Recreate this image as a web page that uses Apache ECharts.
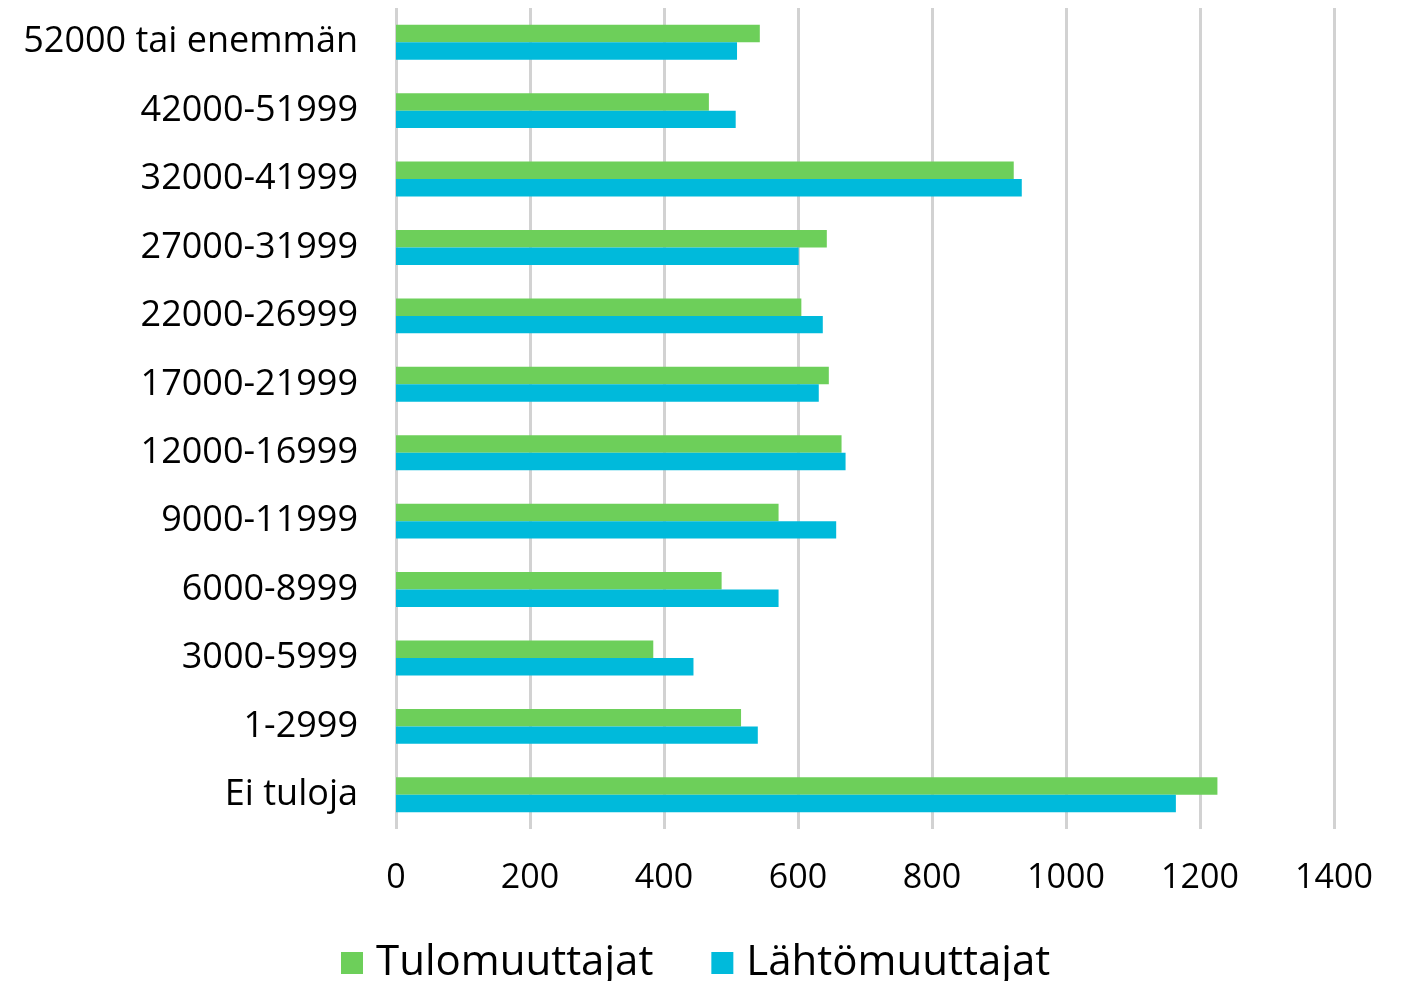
<!DOCTYPE html>
<html>
<head>
<meta charset="utf-8">
<script src="https://cdn.jsdelivr.net/npm/echarts@6/dist/echarts.min.js"></script>
<style>
html, body { margin: 0; padding: 0; background: #fff; }
#main { width: 1405px; height: 981px; }
</style>
</head>
<body>
<div id="main"></div>
<script>
// tuloluokat ylhäältä alas
var categories = ['52000 tai enemmän', '42000-51999', '32000-41999', '27000-31999', '22000-26999',
    '17000-21999', '12000-16999', '9000-11999', '6000-8999', '3000-5999', '1-2999', 'Ei tuloja'];
var tulomuuttajat = [543, 467, 922, 643, 605, 646, 665, 571, 486, 384, 515, 1226];
var lahtomuuttajat = [509, 507, 934, 601, 637, 631, 671, 657, 571, 444, 540, 1164];
var xTicks = [0, 200, 400, 600, 800, 1000, 1200, 1400];

var fontName = '"Open Sans", "Noto Sans", sans-serif';

var myChart = echarts.init(document.getElementById('main'));
var option = {
    animation: false,
    color: ['#6DCF5A', '#00BADB'],
    textStyle: { fontFamily: fontName },
    legend: {
        data: ['Tulomuuttajat', 'Lähtömuuttajat'],
        left: 336,
        top: 937,
        itemWidth: 22,
        itemHeight: 22,
        itemGap: 58,
        icon: 'rect',
        textStyle: { fontSize: 42, color: '#000', fontFamily: fontName, padding: [0, 0, 0, 8] }
    },
    grid: {
        left: 396,
        right: 71,
        top: 8,
        bottom: 152
    },
    xAxis: {
        type: 'value',
        min: xTicks[0],
        max: xTicks[xTicks.length - 1],
        interval: 200,
        axisLine: { show: false },
        axisTick: { show: false },
        axisLabel: {
            fontSize: 34, color: '#000', margin: 32, fontFamily: fontName,
            formatter: function (v) { return String(v); }
        },
        splitLine: { lineStyle: { color: '#d2d2d2', width: 3 } }
    },
    yAxis: {
        type: 'category',
        inverse: true,
        data: categories,
        axisLine: { show: false },
        axisTick: { show: false },
        axisLabel: { fontSize: 36, color: '#000', margin: 38, fontFamily: fontName }
    },
    series: [
        {
            name: 'Tulomuuttajat',
            type: 'bar',
            barGap: '0%',
            barCategoryGap: '49%',
            data: tulomuuttajat
        },
        {
            name: 'Lähtömuuttajat',
            type: 'bar',
            barGap: '0%',
            barCategoryGap: '49%',
            data: lahtomuuttajat
        }
    ]
};
myChart.setOption(option);
</script>
</body>
</html>
